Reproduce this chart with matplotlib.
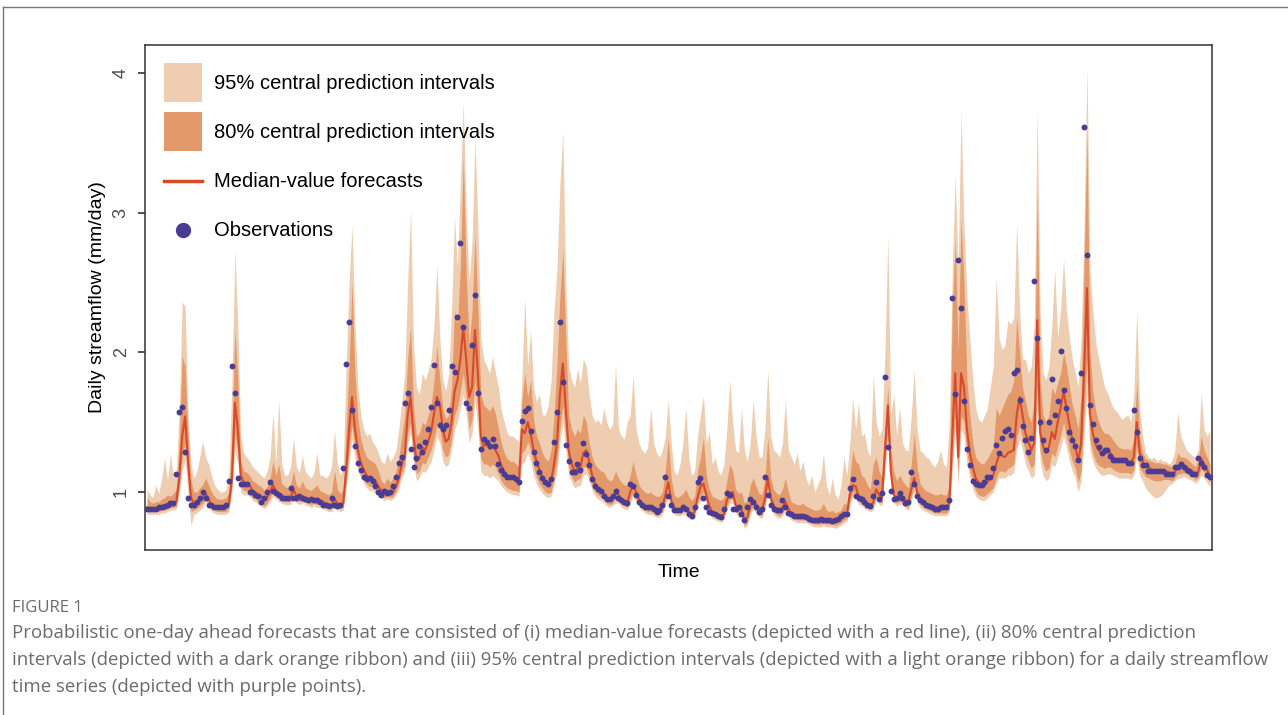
import numpy as np
import matplotlib
matplotlib.use("Agg")
from matplotlib import pyplot as plt
from matplotlib.lines import Line2D
from matplotlib.patches import Patch
from matplotlib.legend_handler import HandlerLine2D

# observed daily streamflow (mm/day)
obs = [0.88, 0.88, 0.88, 0.88, 0.89, 0.89, 0.90, 0.91, 0.92, 0.92,
       1.13, 1.57, 1.61, 1.29, 0.96, 0.91, 0.91, 0.93, 0.96, 1.00,
       0.96, 0.91, 0.91, 0.89, 0.89, 0.89, 0.89, 0.91, 1.08, 1.90,
       1.71, 1.10, 1.06, 1.06, 1.06, 1.00, 1.00, 0.98, 0.97, 0.93,
       0.96, 1.00, 1.07, 1.01, 0.99, 0.98, 0.96, 0.96, 0.96, 1.03,
       0.96, 0.96, 0.97, 0.96, 0.95, 0.94, 0.95, 0.94, 0.94, 0.93,
       0.91, 0.91, 0.90, 0.96, 0.91, 0.90, 0.91, 1.17, 1.92, 2.22,
       1.59, 1.33, 1.21, 1.16, 1.11, 1.09, 1.10, 1.08, 1.04, 1.00,
       0.98, 1.01, 0.99, 1.00, 1.04, 1.11, 1.21, 1.25, 1.64, 1.71,
       1.31, 1.18, 1.24, 1.33, 1.29, 1.36, 1.45, 1.61, 1.91, 1.64,
       1.48, 1.45, 1.48, 1.59, 1.90, 1.86, 2.25, 2.78, 2.18, 1.64,
       1.60, 2.05, 2.41, 1.71, 1.31, 1.38, 1.36, 1.33, 1.38, 1.33,
       1.20, 1.16, 1.13, 1.11, 1.11, 1.11, 1.09, 1.07, 1.51, 1.58,
       1.60, 1.44, 1.29, 1.21, 1.14, 1.10, 1.07, 1.06, 1.09, 1.36,
       1.57, 2.22, 1.79, 1.34, 1.22, 1.14, 1.14, 1.20, 1.16, 1.35,
       1.27, 1.19, 1.09, 1.04, 1.02, 1.01, 0.97, 0.95, 0.95, 0.97,
       1.01, 0.96, 0.94, 0.93, 0.92, 1.06, 1.04, 0.98, 0.93, 0.91,
       0.89, 0.89, 0.89, 0.88, 0.86, 0.87, 0.91, 1.11, 0.97, 0.91,
       0.87, 0.87, 0.87, 0.89, 0.88, 0.84, 0.83, 0.89, 1.07, 1.10,
       0.96, 0.89, 0.86, 0.85, 0.84, 0.83, 0.82, 0.88, 0.99, 0.98,
       0.88, 0.88, 0.89, 0.84, 0.80, 0.89, 0.95, 0.93, 0.89, 0.86,
       0.88, 1.11, 0.98, 0.91, 0.88, 0.87, 0.87, 0.94, 0.89, 0.85,
       0.84, 0.83, 0.83, 0.83, 0.83, 0.82, 0.81, 0.80, 0.80, 0.80,
       0.81, 0.80, 0.80, 0.80, 0.79, 0.80, 0.81, 0.83, 0.84, 0.84,
       1.03, 1.09, 0.97, 0.96, 0.95, 0.93, 0.91, 0.90, 0.97, 1.07,
       0.95, 0.99, 1.82, 1.32, 1.01, 0.95, 0.96, 0.99, 0.96, 0.92,
       0.93, 1.14, 1.06, 0.97, 0.94, 0.93, 0.91, 0.90, 0.89, 0.88,
       0.88, 0.89, 0.89, 0.89, 0.94, 2.39, 1.70, 2.66, 2.32, 1.65,
       1.31, 1.19, 1.08, 1.06, 1.05, 1.05, 1.07, 1.11, 1.11, 1.17,
       1.34, 1.28, 1.39, 1.44, 1.45, 1.41, 1.85, 1.87, 1.66, 1.47,
       1.37, 1.29, 1.39, 2.51, 2.10, 1.50, 1.37, 1.30, 1.50, 1.81,
       1.55, 1.65, 2.01, 1.73, 1.60, 1.43, 1.37, 1.33, 1.23, 1.85,
       3.61, 2.70, 1.62, 1.49, 1.37, 1.32, 1.28, 1.30, 1.30, 1.26,
       1.23, 1.23, 1.23, 1.23, 1.23, 1.21, 1.21, 1.59, 1.43, 1.24,
       1.19, 1.19, 1.15, 1.15, 1.15, 1.15, 1.15, 1.15, 1.13, 1.13,
       1.13, 1.18, 1.18, 1.20, 1.18, 1.16, 1.15, 1.13, 1.13, 1.24,
       1.21, 1.18, 1.12, 1.11]

# median-value forecasts
med = [0.89, 0.88, 0.88, 0.88, 0.88, 0.89, 0.89, 0.90, 0.91, 0.92,
       0.93, 1.10, 1.40, 1.54, 1.22, 0.96, 0.92, 0.92, 0.94, 0.96,
       0.99, 0.95, 0.91, 0.90, 0.89, 0.89, 0.89, 0.89, 0.92, 1.10,
       1.64, 1.45, 1.12, 1.07, 1.06, 1.05, 1.01, 1.00, 0.98, 0.97,
       0.94, 0.96, 1.00, 1.05, 1.01, 0.99, 0.98, 0.96, 0.96, 0.96,
       1.02, 0.97, 0.96, 0.97, 0.96, 0.95, 0.94, 0.95, 0.94, 0.94,
       0.93, 0.92, 0.91, 0.91, 0.95, 0.92, 0.91, 0.92, 1.15, 1.45,
       1.68, 1.45, 1.30, 1.21, 1.16, 1.12, 1.10, 1.10, 1.08, 1.04,
       1.01, 0.99, 1.01, 0.99, 1.00, 1.04, 1.10, 1.20, 1.26, 1.55,
       1.68, 1.40, 1.22, 1.24, 1.32, 1.30, 1.36, 1.43, 1.56, 1.68,
       1.62, 1.45, 1.36, 1.38, 1.50, 1.72, 1.80, 1.95, 2.18, 1.95,
       1.68, 1.75, 2.16, 1.85, 1.39, 1.33, 1.34, 1.31, 1.33, 1.30,
       1.26, 1.19, 1.15, 1.12, 1.11, 1.10, 1.10, 1.08, 1.45, 1.42,
       1.50, 1.42, 1.30, 1.22, 1.16, 1.11, 1.08, 1.07, 1.08, 1.20,
       1.35, 1.70, 1.92, 1.60, 1.30, 1.20, 1.15, 1.17, 1.18, 1.28,
       1.30, 1.22, 1.12, 1.06, 1.03, 1.01, 0.99, 0.96, 0.95, 0.96,
       0.99, 0.98, 0.95, 0.93, 0.92, 1.00, 1.05, 1.00, 0.95, 0.92,
       0.90, 0.89, 0.89, 0.88, 0.87, 0.87, 0.89, 0.98, 1.07, 0.94,
       0.89, 0.87, 0.87, 0.88, 0.88, 0.86, 0.84, 0.86, 0.96, 1.04,
       1.06, 0.98, 0.90, 0.86, 0.85, 0.84, 0.83, 0.84, 0.94, 0.99,
       1.00, 0.91, 0.88, 0.88, 0.80, 0.82, 0.90, 0.94, 0.91, 0.88,
       0.87, 0.95, 1.10, 0.96, 0.90, 0.88, 0.87, 0.89, 0.93, 0.88,
       0.85, 0.84, 0.83, 0.83, 0.83, 0.83, 0.82, 0.81, 0.80, 0.80,
       0.80, 0.81, 0.80, 0.80, 0.80, 0.79, 0.80, 0.81, 0.83, 0.84,
       0.98, 1.05, 1.04, 0.97, 0.96, 0.94, 0.92, 0.91, 0.92, 1.02,
       0.98, 0.96, 1.30, 1.62, 1.15, 0.98, 0.96, 0.97, 0.97, 0.94,
       0.93, 1.02, 1.10, 1.00, 0.95, 0.93, 0.92, 0.91, 0.90, 0.89,
       0.89, 0.89, 0.89, 0.89, 0.92, 1.40, 1.85, 1.25, 1.85, 1.75,
       1.45, 1.28, 1.18, 1.10, 1.07, 1.05, 1.05, 1.07, 1.10, 1.12,
       1.20, 1.27, 1.26, 1.25, 1.28, 1.29, 1.30, 1.55, 1.68, 1.55,
       1.42, 1.36, 1.30, 1.35, 2.23, 1.43, 1.33, 1.28, 1.32, 1.43,
       1.38, 1.50, 1.60, 1.72, 1.60, 1.48, 1.38, 1.33, 1.22, 1.35,
       1.85, 2.46, 1.56, 1.42, 1.34, 1.30, 1.28, 1.27, 1.29, 1.28,
       1.25, 1.23, 1.22, 1.22, 1.22, 1.22, 1.21, 1.25, 1.50, 1.28,
       1.22, 1.18, 1.18, 1.16, 1.15, 1.15, 1.15, 1.15, 1.15, 1.14,
       1.13, 1.14, 1.18, 1.18, 1.19, 1.18, 1.16, 1.15, 1.13, 1.14,
       1.24, 1.20, 1.16, 1.11]

# 95% central prediction interval
lo95 = [0.84, 0.84, 0.84, 0.84, 0.84, 0.85, 0.85, 0.86, 0.87, 0.87,
        0.88, 0.98, 1.15, 1.22, 1.00, 0.76, 0.84, 0.85, 0.87, 0.89,
        0.93, 0.89, 0.86, 0.85, 0.84, 0.84, 0.84, 0.84, 0.86, 1.00,
        1.30, 1.20, 1.00, 0.98, 0.98, 0.97, 0.94, 0.93, 0.91, 0.90,
        0.88, 0.90, 0.93, 0.97, 0.95, 0.93, 0.92, 0.91, 0.91, 0.91,
        0.96, 0.92, 0.91, 0.92, 0.91, 0.90, 0.89, 0.90, 0.89, 0.89,
        0.88, 0.87, 0.86, 0.86, 0.89, 0.87, 0.86, 0.87, 1.02, 1.20,
        1.38, 1.25, 1.15, 1.10, 1.06, 1.03, 1.01, 1.01, 0.99, 0.96,
        0.96, 0.94, 0.95, 0.94, 0.95, 0.98, 1.03, 1.10, 1.15, 1.35,
        1.42, 1.20, 1.08, 1.10, 1.15, 1.14, 1.18, 1.22, 1.30, 1.40,
        1.35, 1.22, 1.18, 1.20, 1.30, 1.45, 1.50, 1.60, 1.70, 1.55,
        1.35, 1.42, 1.65, 1.45, 1.15, 1.12, 1.12, 1.10, 1.12, 1.10,
        1.08, 1.04, 1.02, 1.00, 0.99, 0.98, 0.98, 0.97, 1.20, 1.22,
        1.28, 1.22, 1.12, 1.06, 1.02, 0.99, 0.97, 0.96, 0.97, 1.05,
        1.15, 1.35, 1.50, 1.30, 1.12, 1.07, 1.03, 1.04, 1.05, 1.12,
        1.13, 1.08, 1.01, 0.97, 0.95, 0.94, 0.92, 0.90, 0.89, 0.90,
        0.92, 0.92, 0.89, 0.88, 0.87, 0.92, 0.97, 0.93, 0.89, 0.87,
        0.85, 0.84, 0.84, 0.83, 0.82, 0.82, 0.84, 0.90, 0.97, 0.88,
        0.84, 0.83, 0.83, 0.84, 0.84, 0.81, 0.80, 0.82, 0.90, 0.94,
        0.97, 0.91, 0.85, 0.81, 0.80, 0.79, 0.78, 0.80, 0.87, 0.92,
        0.92, 0.85, 0.82, 0.82, 0.74, 0.76, 0.84, 0.88, 0.85, 0.82,
        0.81, 0.88, 1.00, 0.89, 0.84, 0.82, 0.81, 0.83, 0.87, 0.82,
        0.80, 0.79, 0.78, 0.78, 0.78, 0.78, 0.77, 0.76, 0.75, 0.75,
        0.75, 0.76, 0.75, 0.75, 0.75, 0.74, 0.75, 0.76, 0.78, 0.79,
        0.90, 0.97, 0.96, 0.91, 0.90, 0.88, 0.87, 0.86, 0.87, 0.95,
        0.91, 0.90, 1.15, 1.38, 1.05, 0.92, 0.90, 0.91, 0.91, 0.88,
        0.87, 0.94, 1.00, 0.93, 0.89, 0.87, 0.86, 0.85, 0.84, 0.83,
        0.83, 0.83, 0.83, 0.83, 0.86, 1.15, 1.45, 1.05, 1.45, 1.40,
        1.20, 1.10, 1.02, 0.97, 0.95, 0.94, 0.94, 0.96, 0.98, 1.00,
        1.06, 1.10, 1.10, 1.10, 1.12, 1.12, 1.14, 1.30, 1.38, 1.30,
        1.20, 1.15, 1.10, 1.12, 1.60, 1.22, 1.12, 1.08, 1.10, 1.20,
        1.18, 1.25, 1.32, 1.40, 1.32, 1.22, 1.15, 1.10, 1.00, 1.08,
        1.40, 1.70, 1.30, 1.22, 1.17, 1.14, 1.12, 1.12, 1.13, 1.13,
        1.12, 1.11, 1.10, 1.10, 1.10, 1.10, 1.09, 1.12, 1.25, 1.12,
        1.08, 1.03, 1.00, 0.98, 0.96, 0.96, 0.97, 0.99, 1.02, 1.05,
        1.06, 1.08, 1.10, 1.10, 1.11, 1.10, 1.09, 1.08, 1.06, 1.08,
        1.12, 1.10, 1.07, 1.04]

hi95 = [1.02, 0.98, 0.96, 1.05, 0.99, 1.10, 1.24, 1.08, 1.28, 1.10,
        1.15, 1.60, 2.36, 2.33, 1.55, 1.20, 1.10, 1.15, 1.25, 1.36,
        1.25, 1.20, 1.12, 1.05, 1.02, 1.00, 1.00, 1.02, 1.15, 1.80,
        2.73, 2.20, 1.40, 1.28, 1.25, 1.22, 1.18, 1.16, 1.14, 1.12,
        1.10, 1.15, 1.25, 1.57, 1.20, 1.66, 1.20, 1.12, 1.12, 1.18,
        1.39, 1.18, 1.14, 1.26, 1.15, 1.12, 1.10, 1.14, 1.28, 1.12,
        1.12, 1.10, 1.12, 1.18, 1.44, 1.20, 1.12, 1.20, 1.90, 2.50,
        2.91, 2.20, 1.75, 1.55, 1.45, 1.40, 1.42, 1.36, 1.33, 1.28,
        1.22, 1.20, 1.28, 1.22, 1.25, 1.30, 1.45, 1.65, 1.85, 2.50,
        3.02, 2.05, 1.75, 1.70, 1.85, 1.80, 1.87, 1.95, 2.20, 2.62,
        2.10, 1.80, 1.72, 1.85, 2.30, 2.97, 2.60, 3.20, 3.79, 3.00,
        2.50, 2.80, 3.53, 2.90, 2.10, 1.95, 1.90, 1.85, 1.97, 1.85,
        1.75, 1.58, 1.50, 1.42, 1.40, 1.40, 1.38, 1.36, 1.80, 2.39,
        1.90, 2.16, 1.75, 1.65, 1.70, 1.55, 1.55, 1.62, 1.80, 2.30,
        2.60, 3.20, 3.58, 2.50, 1.90, 1.80, 1.75, 1.88, 1.78, 1.95,
        1.90, 1.70, 1.55, 1.50, 1.52, 1.48, 1.60, 1.50, 1.45, 1.48,
        1.91, 1.45, 1.40, 1.38, 1.50, 1.55, 1.83, 1.45, 1.35, 1.30,
        1.28, 1.32, 1.61, 1.35, 1.28, 1.25, 1.30, 1.40, 1.66, 1.35,
        1.15, 1.12, 1.20, 1.35, 1.60, 1.25, 1.12, 1.15, 1.40, 1.55,
        1.69, 1.35, 1.43, 1.20, 1.25, 1.15, 1.12, 1.20, 1.45, 1.80,
        1.50, 1.30, 1.28, 1.60, 1.30, 1.22, 1.35, 1.66, 1.40, 1.25,
        1.25, 1.45, 1.87, 1.40, 1.30, 1.28, 1.25, 1.35, 1.66, 1.30,
        1.25, 1.20, 1.28, 1.15, 1.22, 1.10, 1.05, 1.12, 1.00, 1.05,
        1.10, 1.27, 1.05, 0.98, 1.10, 0.98, 0.95, 1.05, 1.25, 1.12,
        1.35, 1.67, 1.45, 1.64, 1.40, 1.42, 1.30, 1.25, 1.84, 1.50,
        1.40, 1.45, 2.00, 2.83, 1.55, 1.70, 1.40, 1.61, 1.35, 1.30,
        1.30, 1.55, 1.87, 1.45, 1.30, 1.28, 1.25, 1.24, 1.20, 1.18,
        1.22, 1.30, 1.20, 1.18, 1.50, 2.60, 3.27, 2.60, 3.73, 2.90,
        2.40, 2.10, 1.80, 1.60, 1.52, 1.50, 1.55, 1.60, 1.75, 1.90,
        2.53, 2.10, 2.02, 2.05, 2.23, 2.20, 2.25, 2.92, 2.30, 1.95,
        1.95, 1.85, 1.90, 2.20, 3.73, 2.30, 1.85, 1.80, 1.90, 2.20,
        2.59, 2.10, 2.30, 2.67, 2.30, 2.10, 1.95, 1.85, 1.75, 2.10,
        2.90, 4.03, 2.60, 2.30, 2.07, 1.95, 1.85, 1.75, 1.71, 1.65,
        1.60, 1.58, 1.55, 1.52, 1.54, 1.55, 1.50, 1.70, 2.30, 1.60,
        1.40, 1.28, 1.25, 1.24, 1.25, 1.22, 1.24, 1.22, 1.22, 1.20,
        1.22, 1.30, 1.57, 1.40, 1.35, 1.30, 1.28, 1.26, 1.25, 1.30,
        1.71, 1.45, 1.40, 1.44]

# 80% central prediction interval
lo80 = [0.86, 0.86, 0.86, 0.86, 0.86, 0.87, 0.87, 0.88, 0.89, 0.89,
        0.90, 1.03, 1.25, 1.35, 1.08, 0.86, 0.87, 0.88, 0.90, 0.92,
        0.95, 0.91, 0.88, 0.87, 0.86, 0.86, 0.86, 0.86, 0.89, 1.04,
        1.42, 1.30, 1.04, 1.01, 1.01, 1.00, 0.96, 0.95, 0.93, 0.92,
        0.90, 0.92, 0.96, 1.00, 0.97, 0.95, 0.94, 0.93, 0.93, 0.93,
        0.98, 0.94, 0.93, 0.94, 0.93, 0.92, 0.91, 0.92, 0.91, 0.91,
        0.90, 0.89, 0.88, 0.88, 0.92, 0.89, 0.88, 0.89, 1.07, 1.30,
        1.48, 1.32, 1.20, 1.13, 1.09, 1.06, 1.04, 1.04, 1.02, 0.98,
        0.98, 0.96, 0.97, 0.96, 0.97, 1.00, 1.06, 1.14, 1.19, 1.42,
        1.50, 1.27, 1.13, 1.15, 1.21, 1.20, 1.25, 1.30, 1.38, 1.48,
        1.45, 1.30, 1.25, 1.27, 1.38, 1.55, 1.60, 1.72, 1.85, 1.68,
        1.45, 1.52, 1.80, 1.58, 1.24, 1.20, 1.20, 1.18, 1.20, 1.18,
        1.13, 1.08, 1.05, 1.03, 1.02, 1.01, 1.01, 1.00, 1.28, 1.30,
        1.36, 1.30, 1.18, 1.11, 1.06, 1.03, 1.00, 0.99, 1.00, 1.10,
        1.22, 1.45, 1.62, 1.40, 1.18, 1.11, 1.07, 1.09, 1.10, 1.18,
        1.18, 1.12, 1.04, 1.00, 0.98, 0.96, 0.95, 0.92, 0.91, 0.92,
        0.95, 0.94, 0.91, 0.90, 0.89, 0.95, 0.99, 0.95, 0.91, 0.89,
        0.87, 0.86, 0.86, 0.85, 0.84, 0.84, 0.86, 0.93, 1.00, 0.90,
        0.86, 0.85, 0.85, 0.86, 0.86, 0.83, 0.82, 0.84, 0.93, 0.97,
        1.00, 0.94, 0.87, 0.83, 0.82, 0.81, 0.80, 0.82, 0.90, 0.95,
        0.95, 0.87, 0.84, 0.84, 0.76, 0.78, 0.86, 0.90, 0.87, 0.84,
        0.83, 0.90, 1.04, 0.91, 0.86, 0.84, 0.83, 0.85, 0.89, 0.84,
        0.82, 0.81, 0.80, 0.80, 0.80, 0.80, 0.79, 0.78, 0.77, 0.77,
        0.77, 0.78, 0.77, 0.77, 0.77, 0.76, 0.77, 0.78, 0.80, 0.81,
        0.93, 1.00, 0.99, 0.93, 0.92, 0.90, 0.89, 0.88, 0.89, 0.97,
        0.93, 0.92, 1.20, 1.45, 1.08, 0.94, 0.92, 0.93, 0.93, 0.90,
        0.89, 0.97, 1.04, 0.96, 0.91, 0.89, 0.88, 0.87, 0.86, 0.85,
        0.85, 0.85, 0.85, 0.85, 0.88, 1.22, 1.55, 1.12, 1.55, 1.50,
        1.28, 1.15, 1.07, 1.01, 0.98, 0.97, 0.97, 0.99, 1.01, 1.03,
        1.10, 1.15, 1.15, 1.14, 1.17, 1.18, 1.20, 1.38, 1.48, 1.38,
        1.28, 1.22, 1.17, 1.20, 1.75, 1.30, 1.20, 1.15, 1.17, 1.28,
        1.25, 1.33, 1.40, 1.50, 1.40, 1.30, 1.22, 1.17, 1.07, 1.15,
        1.55, 1.95, 1.38, 1.28, 1.22, 1.19, 1.18, 1.17, 1.18, 1.18,
        1.16, 1.15, 1.14, 1.14, 1.14, 1.14, 1.13, 1.16, 1.33, 1.17,
        1.14, 1.11, 1.10, 1.09, 1.08, 1.08, 1.08, 1.09, 1.09, 1.09,
        1.08, 1.10, 1.13, 1.13, 1.14, 1.13, 1.12, 1.11, 1.09, 1.10,
        1.17, 1.14, 1.11, 1.07]

hi80 = [0.96, 0.93, 0.92, 0.93, 0.93, 0.95, 0.96, 0.98, 0.97, 0.99,
        1.02, 1.35, 1.97, 1.90, 1.40, 1.08, 1.00, 1.00, 1.03, 1.05,
        1.10, 1.05, 1.00, 0.97, 0.95, 0.95, 0.95, 0.96, 1.00, 1.40,
        2.16, 1.80, 1.22, 1.15, 1.14, 1.12, 1.08, 1.07, 1.05, 1.04,
        1.01, 1.04, 1.10, 1.22, 1.12, 1.20, 1.06, 1.04, 1.03, 1.05,
        1.15, 1.05, 1.03, 1.08, 1.03, 1.02, 1.01, 1.03, 1.05, 1.01,
        1.00, 0.99, 0.98, 1.00, 1.15, 1.02, 0.99, 1.02, 1.45, 1.90,
        2.50, 1.85, 1.52, 1.38, 1.30, 1.25, 1.23, 1.22, 1.20, 1.15,
        1.08, 1.06, 1.10, 1.07, 1.10, 1.15, 1.25, 1.40, 1.55, 1.95,
        2.18, 1.62, 1.40, 1.42, 1.50, 1.48, 1.55, 1.62, 1.80, 2.05,
        1.80, 1.60, 1.52, 1.55, 1.75, 2.30, 2.20, 2.60, 3.40, 2.55,
        2.05, 2.30, 2.85, 2.30, 1.70, 1.62, 1.60, 1.58, 1.62, 1.56,
        1.45, 1.35, 1.28, 1.24, 1.22, 1.22, 1.20, 1.18, 1.65, 1.85,
        1.68, 1.80, 1.52, 1.40, 1.35, 1.28, 1.24, 1.22, 1.30, 1.55,
        1.90, 2.40, 2.73, 2.10, 1.55, 1.45, 1.40, 1.45, 1.42, 1.55,
        1.50, 1.35, 1.25, 1.20, 1.17, 1.15, 1.14, 1.10, 1.08, 1.09,
        1.15, 1.10, 1.07, 1.05, 1.05, 1.12, 1.22, 1.12, 1.05, 1.02,
        1.00, 0.99, 1.00, 0.98, 0.97, 0.97, 1.00, 1.15, 1.39, 1.10,
        0.98, 0.96, 0.97, 0.99, 1.02, 0.97, 0.94, 0.97, 1.15, 1.25,
        1.39, 1.12, 1.02, 0.97, 0.96, 0.95, 0.94, 0.96, 1.08, 1.20,
        1.15, 1.02, 0.99, 1.00, 0.92, 0.94, 1.05, 1.10, 1.04, 0.99,
        0.98, 1.10, 1.39, 1.10, 1.02, 0.99, 0.98, 1.02, 1.10, 1.00,
        0.93, 0.92, 0.91, 0.91, 0.92, 0.90, 0.89, 0.88, 0.87, 0.87,
        0.88, 0.92, 0.87, 0.86, 0.87, 0.85, 0.86, 0.87, 0.92, 0.91,
        1.10, 1.30, 1.22, 1.20, 1.12, 1.10, 1.05, 1.02, 1.20, 1.25,
        1.15, 1.10, 1.45, 1.75, 1.30, 1.15, 1.08, 1.12, 1.08, 1.05,
        1.03, 1.20, 1.42, 1.18, 1.06, 1.03, 1.01, 1.00, 0.99, 0.98,
        0.98, 0.99, 0.98, 0.98, 1.05, 2.30, 2.80, 2.00, 2.95, 2.50,
        1.80, 1.55, 1.35, 1.25, 1.22, 1.20, 1.21, 1.24, 1.28, 1.32,
        1.60, 1.55, 1.60, 1.65, 1.70, 1.72, 1.80, 2.25, 2.00, 1.75,
        1.65, 1.55, 1.50, 1.65, 3.14, 1.80, 1.55, 1.50, 1.55, 1.75,
        1.70, 1.78, 1.85, 2.00, 1.90, 1.75, 1.62, 1.55, 1.45, 1.70,
        2.60, 3.55, 2.00, 1.72, 1.58, 1.50, 1.45, 1.42, 1.42, 1.40,
        1.37, 1.34, 1.32, 1.31, 1.31, 1.31, 1.30, 1.38, 1.80, 1.40,
        1.28, 1.24, 1.23, 1.22, 1.21, 1.21, 1.21, 1.20, 1.20, 1.19,
        1.18, 1.20, 1.28, 1.25, 1.25, 1.24, 1.22, 1.20, 1.18, 1.22,
        1.40, 1.30, 1.25, 1.20]

light = "#EECDB0"
dark = "#E4996B"
red = "#D9492C"
purple = "#4A3B94"


class CenteredLine(HandlerLine2D):
    # put line/marker keys at the same height as the square keys
    def create_artists(self, legend, orig_handle, xdescent, ydescent,
                       width, height, fontsize, trans):
        arts = super().create_artists(legend, orig_handle, xdescent, ydescent,
                                      width, height, fontsize, trans)
        for a in arts:
            a.set_ydata(np.asarray(a.get_ydata()) - ydescent / 2)
        return arts


fig = plt.figure(figsize=(12.88, 7.15), dpi=100)
ax = fig.add_axes([145 / 1288, 165 / 715, 1067 / 1288, 505 / 715])

x = np.arange(len(obs))
ax.fill_between(x, lo95, hi95, color=light, lw=0)
ax.fill_between(x, lo80, hi80, color=dark, lw=0)
ax.plot(x, med, color=red, lw=1.5)
ax.scatter(x, obs, s=18, color=purple, lw=0, zorder=3)

ax.set_xlim(-0.7, len(obs) - 0.3)
ax.set_ylim(0.585, 4.2)
ax.set_xticks([])
ax.set_yticks([1, 2, 3, 4])
ax.set_yticklabels(["1", "2", "3", "4"], rotation=90, va="center",
                   fontsize=13, color="#4d4d4d", family="Liberation Sans")
ax.tick_params(axis="y", length=5, width=1.2, color="#333333", pad=6)
for s in ax.spines.values():
    s.set_color("#333333")
    s.set_linewidth(1.1)

ax.set_xlabel("Time", fontsize=14, family="Liberation Sans", labelpad=10)
ax.set_ylabel("Daily streamflow (mm/day)", fontsize=14,
              family="Liberation Sans", labelpad=5)

line_key = Line2D([], [], color=red, lw=2.5)
dot_key = Line2D([], [], color=purple, marker="o", ls="none", markersize=10)
handles = [Patch(facecolor=light, edgecolor="none"),
           Patch(facecolor=dark, edgecolor="none"),
           line_key, dot_key]
labels = ["95% central prediction intervals", "80% central prediction intervals",
          "Median-value forecasts", "Observations"]
ax.legend(handles, labels, loc="upper left", bbox_to_anchor=(0.0176, 0.964),
          frameon=False, prop={"family": "Liberation Sans", "size": 14.5},
          handlelength=1.9, handleheight=2.6, labelspacing=0.5,
          handletextpad=0.6, borderaxespad=0.0, borderpad=0.0,
          handler_map={line_key: CenteredLine(), dot_key: CenteredLine()})

# page frame around the figure
fig.add_artist(Line2D([3 / 1288, 1], [1 - 7 / 715] * 2, color="#777777", lw=1,
                      transform=fig.transFigure))
fig.add_artist(Line2D([3 / 1288] * 2, [0, 1 - 7 / 715], color="#777777", lw=1,
                      transform=fig.transFigure))

fig.text(12 / 1288, 1 - 608 / 715, "FIGURE 1", fontsize=12, color="#6b6b6b",
         family="Open Sans", va="center")
caption = ("Probabilistic one-day ahead forecasts that are consisted of (i) median-value "
           "forecasts (depicted with a red line), (ii) 80% central prediction\n"
           "intervals (depicted with a dark orange ribbon) and (iii) 95% central prediction "
           "intervals (depicted with a light orange ribbon) for a daily streamflow\n"
           "time series (depicted with purple points).")
fig.text(12 / 1288, 1 - 624 / 715, caption, fontsize=13.4, color="#6b6b6b",
         family="Open Sans", va="top", linespacing=1.65)

fig.savefig("out.png", dpi=100)
